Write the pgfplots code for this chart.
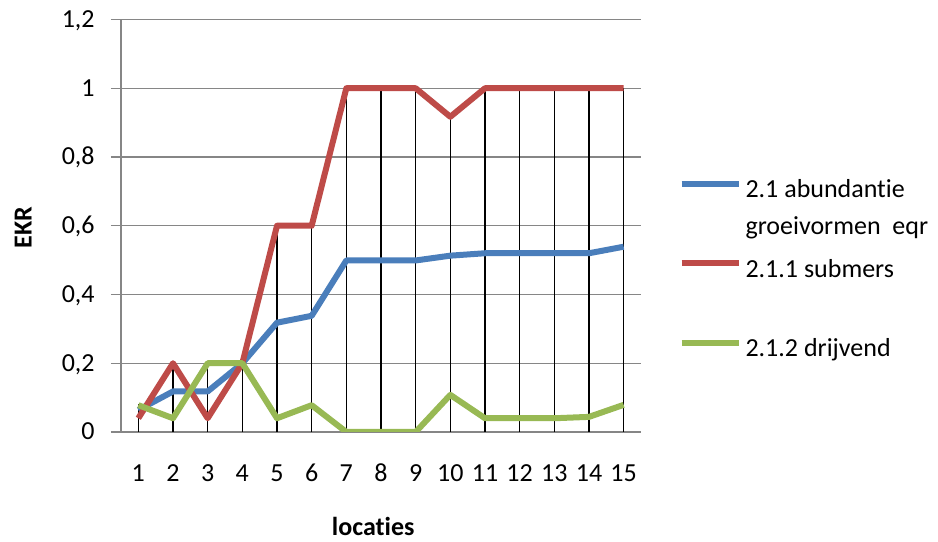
\documentclass[border=0pt]{standalone}
\usepackage{fontspec}
\setmainfont{Carlito}[Ligatures=NoCommon]
\usepackage{pgfplots}
\pgfplotsset{compat=1.18}
\definecolor{eblue}{HTML}{4A7EBB}
\definecolor{ered}{HTML}{BE4B48}
\definecolor{egreen}{HTML}{98B954}
\definecolor{egrid}{HTML}{868686}
\begin{document}
\begin{tikzpicture}
\path[use as bounding box] (0,0) rectangle (469bp,271bp);
\begin{axis}[
  at={(60.5bp,55bp)}, anchor=south west,
  width=260bp, height=206.25bp, scale only axis,
  xmin=0.5, xmax=15.5, ymin=0, ymax=1.2,
  xtick={1,2,...,15}, ytick={0,0.2,0.4,0.6,0.8,1,1.2},
  axis x line=bottom, axis y line=left,
  axis line style={-, egrid, line width=0.6bp},
  ymajorgrids, grid style={egrid, line width=0.6bp},
  tick style={egrid, line width=0.6bp},
  major tick length=5bp,
  ytick align=outside,
  xtick align=inside,
  font=\fontsize{13bp}{15.6bp}\selectfont,
  /pgf/number format/use comma,
  /pgf/number format/assume math mode=true,
  yticklabel style={anchor=east, inner sep=0pt, xshift=-8bp, text height=8.5bp, text depth=0pt, yshift=0.3bp},
  xticklabel style={anchor=north, inner sep=0pt, yshift=-16bp, text height=8.5bp, text depth=0pt},
  xlabel={\textbf{locaties}},
  ylabel={\textbf{EKR}},
  xlabel style={at={(axis description cs:0.485,-0.23)}, anchor=center},
  ylabel style={at={(axis description cs:-0.188,0.495)}, anchor=center},
  legend image code/.code={\path (0bp,0bp); \draw[#1] (0bp,-4.2bp) -- (28.5bp,-4.2bp);},
  legend style={at={(axis description cs:1.0714,0.63)}, anchor=north west,
    draw=none, fill=none, inner sep=0pt, row sep=5bp,
    font=\fontsize{13bp}{18.5bp}\selectfont,
    cells={anchor=north west, align=left}},
  every axis plot/.append style={line width=3bp, line join=round},
]
\addplot[ycomb, black, line width=0.55bp, forget plot] coordinates {
(1,0.08)(2,0.2)(3,0.2)(4,0.2)(5,0.6)(6,0.6)(7,1)(8,1)(9,1)(10,0.917)(11,1)(12,1)(13,1)(14,1)(15,1)};
\addplot[eblue] coordinates {
(1,0.064)(2,0.118)(3,0.118)(4,0.2)(5,0.318)(6,0.338)(7,0.499)(8,0.499)(9,0.499)(10,0.513)(11,0.52)(12,0.52)(13,0.52)(14,0.52)(15,0.539)};
\addlegendentry{2.1 abundantie\\groeivormen~ eqr}
\addplot[ered] coordinates {
(1,0.04)(2,0.2)(3,0.04)(4,0.2)(5,0.6)(6,0.6)(7,1)(8,1)(9,1)(10,0.917)(11,1)(12,1)(13,1)(14,1)(15,1)};
\addlegendentry{2.1.1 submers\\\mbox{}}
\addplot[egreen] coordinates {
(1,0.078)(2,0.04)(3,0.2)(4,0.2)(5,0.04)(6,0.078)(7,0)(8,0)(9,0)(10,0.108)(11,0.04)(12,0.04)(13,0.04)(14,0.044)(15,0.079)};
\addlegendentry{2.1.2 drijvend\\\mbox{}}
\end{axis}
\end{tikzpicture}
\end{document}
